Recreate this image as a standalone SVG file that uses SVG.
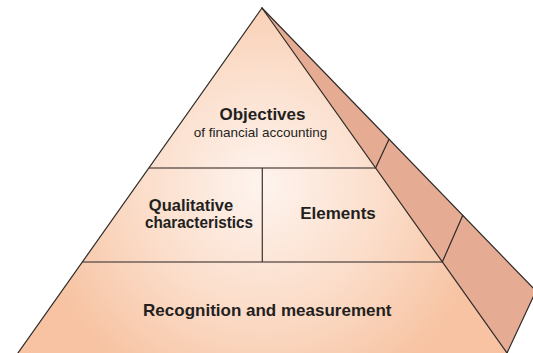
<svg xmlns="http://www.w3.org/2000/svg" width="533" height="353" viewBox="0 0 533 353">
  <defs>
    <radialGradient id="face" gradientUnits="userSpaceOnUse" cx="262" cy="185" r="230">
      <stop offset="0" stop-color="#fef4ef"/>
      <stop offset="0.55" stop-color="#fbdcc8"/>
      <stop offset="1" stop-color="#f7c3a2"/>
    </radialGradient>
  </defs>
  <style>
    .face { fill: url(#face); stroke: none; }
    .side { fill: #e6ab93; stroke: none; }
    .edge { stroke: #2e2a28; stroke-width: 1.2; fill: none; stroke-linecap: round; }
    .div { stroke: #6e5f58; stroke-width: 1.6; fill: none; }
    .vdiv { stroke: #3a3330; stroke-width: 1.2; fill: none; }
    .title { font-family: "Liberation Sans", Arial, sans-serif; font-weight: bold; font-size: 17px; fill: #231f20; text-anchor: middle; }
    .two { font-size: 16.5px; }
    .sub { font-family: "Liberation Sans", Arial, sans-serif; font-size: 13.5px; fill: #231f20; text-anchor: middle; }
  </style>

  <g id="side-face">
    <polygon class="side" points="262,8 536,291 507,353"/>
  </g>

  <g id="objectives">
    <polygon class="face" points="262,8 375.6,168 148.9,168"/>
    <text class="title" x="262.5" y="120">Objectives</text>
    <text class="sub" x="260.5" y="136.5">of financial accounting</text>
  </g>

  <g id="qualitative-characteristics">
    <polygon class="face" points="148.9,168 262,168 262,262 82.4,262"/>
    <text class="title two" x="191" y="211">Qualitative</text>
    <text class="title two" x="199" y="228" textLength="108" lengthAdjust="spacingAndGlyphs">characteristics</text>
  </g>

  <g id="elements">
    <polygon class="face" points="262,168 375.6,168 442.3,262 262,262"/>
    <text class="title" x="338" y="219.3">Elements</text>
  </g>

  <g id="recognition-measurement">
    <polygon class="face" points="82.4,262 442.3,262 512,360 13,360"/>
    <text class="title" x="267.3" y="315.7">Recognition and measurement</text>
  </g>

  <g id="connectors">
    <line class="div" x1="148.9" y1="168" x2="375.6" y2="168"/>
    <line class="div" x1="82.4" y1="262" x2="442.3" y2="262"/>
    <line class="vdiv" x1="262.3" y1="168" x2="262.3" y2="262"/>
    <line class="edge" x1="262" y1="8" x2="13" y2="360"/>
    <line class="edge" x1="262" y1="8" x2="512" y2="360"/>
    <line class="edge" x1="262" y1="8" x2="536" y2="291"/>
    <line class="edge" x1="507" y1="353" x2="536" y2="291"/>
    <line class="edge" x1="375.6" y1="168" x2="389" y2="139.2"/>
    <line class="edge" x1="442.3" y1="262" x2="462.7" y2="215.4"/>
  </g>
</svg>
